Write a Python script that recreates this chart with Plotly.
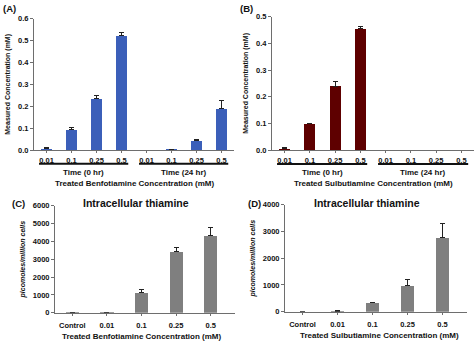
import plotly.graph_objects as go

# ---- data ----
dose_labels = ["0.01", "0.1", "0.25", "0.5"]
time_groups = ["Time (0 hr)", "Time (24 hr)"]

benf_0h = [0.008, 0.095, 0.237, 0.521]
benf_0h_err = [0.002, 0.010, 0.012, 0.015]
benf_24h = [0.0, 0.003, 0.042, 0.190]
benf_24h_err = [0.0, 0.001, 0.007, 0.038]

sulb_0h = [0.007, 0.098, 0.240, 0.455]
sulb_0h_err = [0.002, 0.003, 0.018, 0.010]
sulb_24h = [0.0, 0.0, 0.0, 0.0]
sulb_24h_err = [0.0, 0.0, 0.0, 0.0]

cell_labels = ["Control", "0.01", "0.1", "0.25", "0.5"]
benf_cell = [10, 20, 1130, 3450, 4300]
benf_cell_err = [0, 5, 180, 220, 480]
sulb_cell = [5, 25, 340, 970, 2780]
sulb_cell_err = [0, 5, 20, 220, 530]

W, H = 474, 345
FONT = "Liberation Sans"
AXCOL = "#6e6e6e"


def fx(px):
    return px / W


def fy(px):
    return 1 - px / H


fig = go.Figure()


def add_bars(xaxis, yaxis, vals, errs, color, width):
    xs = list(range(len(vals)))
    fig.add_trace(go.Bar(
        x=xs, y=vals, xaxis=xaxis, yaxis=yaxis, width=width,
        marker=dict(color=color, line=dict(width=0)),
        error_y=dict(type="data", symmetric=False, array=errs,
                     arrayminus=[0] * len(errs), color="#222222",
                     thickness=1, width=2.5),
        showlegend=False,
    ))


add_bars("x", "y", benf_0h + benf_24h, benf_0h_err + benf_24h_err, "#3b5fb9", 0.44)
add_bars("x2", "y2", sulb_0h + sulb_24h, sulb_0h_err + sulb_24h_err, "#5e0000", 0.44)
add_bars("x3", "y3", benf_cell, benf_cell_err, "#7f7f7f", 0.38)
add_bars("x4", "y4", sulb_cell, sulb_cell_err, "#7f7f7f", 0.38)

tickf = dict(family=FONT, size=7.5, color="#111111", weight="bold")


def xax(dom, anchor, labels, rng, standoff):
    return dict(domain=dom, anchor=anchor, range=rng,
                tickvals=list(range(len(labels))), ticktext=labels,
                showline=True, linecolor=AXCOL, linewidth=1,
                ticks="outside", ticklen=2, tickcolor=AXCOL,
                ticklabelstandoff=standoff,
                showgrid=False, zeroline=False, tickfont=tickf,
                fixedrange=True)


def yax(dom, anchor, rng, dtick, fmt, title, italic=False):
    return dict(domain=dom, anchor=anchor, range=rng, dtick=dtick,
                tickformat=fmt, showline=True, linecolor=AXCOL, linewidth=1,
                ticks="outside", ticklen=3, tickcolor=AXCOL,
                showgrid=False, zeroline=False, tickfont=tickf,
                title=dict(text=title, standoff=6,
                           font=dict(family=FONT, size=7, color="#111111",
                                     weight="bold",
                                     style="italic" if italic else "normal")),
                fixedrange=True)


ab_labels = dose_labels + dose_labels

fig.update_layout(
    width=W, height=H,
    margin=dict(l=0, r=0, t=0, b=0),
    paper_bgcolor="white", plot_bgcolor="white",
    bargap=0,
    xaxis=xax([fx(34), fx(234)], "y", ab_labels, [-0.5, 7.5], 1),
    yaxis=yax([fy(150), fy(15)], "x", [0, 0.6], 0.1, ".1f",
              "Measured Concentration (mM)"),
    xaxis2=xax([fx(272), fx(474)], "y2", ab_labels, [-0.5, 7.5], 1),
    yaxis2=yax([fy(150), fy(13)], "x2", [0, 0.5], 0.1, ".1f",
               "Measured Concentration (mM)"),
    xaxis3=xax([fx(55), fx(235)], "y3", cell_labels, [-0.5, 4.7], 3),
    yaxis3=yax([fy(317), fy(207)], "x3", [0, 6000], 1000, "d",
               "picomoles/million cells", italic=True),
    xaxis4=xax([fx(285), fx(467)], "y4", cell_labels, [-0.5, 4.7], 3),
    yaxis4=yax([fy(316), fy(206)], "x4", [0, 4000], 1000, "d",
               "picomoles/million cells", italic=True),
)

ann = []
shapes = []
lblf = dict(family=FONT, size=8, color="#111111", weight="bold")

# group underlines and group labels under panels A and B
for xr, yr, title in [("x", "y", "Treated Benfotiamine Concentration (mM)"),
                      ("x2", "y2", "Treated Sulbutiamine Concentration (mM)")]:
    for g, name in enumerate(time_groups):
        lo = g * len(dose_labels) - 0.3
        hi = (g + 1) * len(dose_labels) - 1 + 0.27
        shapes.append(dict(type="line", xref=xr, yref=f"{yr} domain",
                           x0=lo, x1=hi, y0=-0.104, y1=-0.104,
                           line=dict(color="#111111", width=2)))
        ann.append(dict(text=name, xref=xr, yref=f"{yr} domain",
                        x=(lo + hi) / 2, y=0, yshift=-22, yanchor="middle",
                        showarrow=False, font=lblf))
    ann.append(dict(text=title, xref=f"{xr} domain", yref=f"{yr} domain",
                    x=0.5, y=0, yshift=-33, yanchor="middle",
                    showarrow=False, font=lblf))

for xr, yr, title, cx in [("x3", "y3", "Treated Benfotiamine Concentration (mM)", 0.48),
                          ("x4", "y4", "Treated Sulbutiamine Concentration (mM)", 0.52)]:
    ann.append(dict(text=title, xref=f"{xr} domain", yref=f"{yr} domain",
                    x=cx, y=0, yshift=-24, yanchor="middle",
                    showarrow=False, font=lblf))
    ann.append(dict(text="Intracellular thiamine", xref=f"{xr} domain",
                    yref="paper", x=0.45, y=fy(204), yanchor="middle",
                    showarrow=False,
                    font=dict(family=FONT, size=10.5, color="#111111",
                              weight="bold")))

panelf = dict(family=FONT, size=9.5, color="#111111", weight="bold")
for txt, px, py in [("(A)", 1, 5), ("(B)", 238, 5), ("(C)", 10, 205), ("(D)", 246, 205)]:
    ann.append(dict(text=txt, xref="paper", yref="paper", x=fx(px), y=fy(py),
                    xanchor="left", yanchor="middle", showarrow=False,
                    font=panelf))

fig.update_layout(annotations=ann, shapes=shapes)
fig.write_html("out.html")
